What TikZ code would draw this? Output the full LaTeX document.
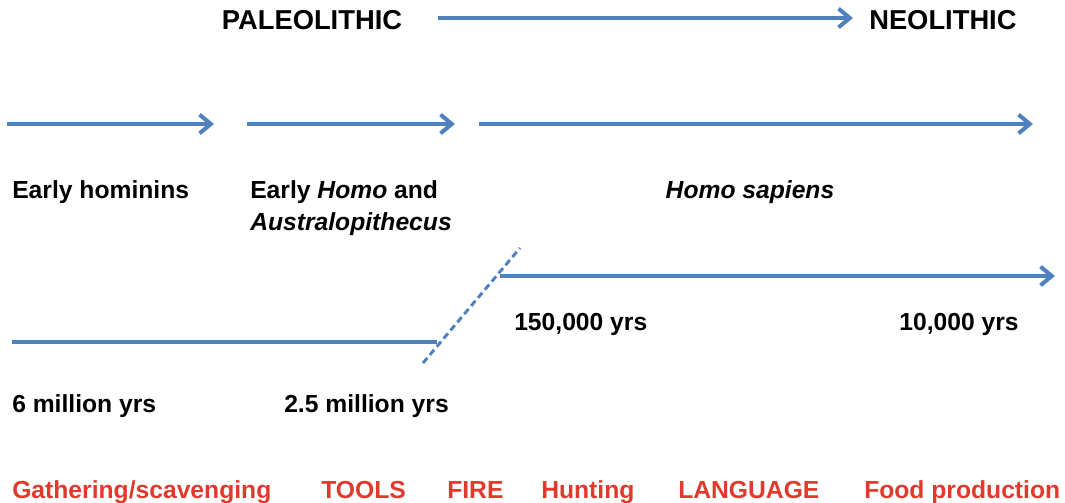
\documentclass[tikz,border=0pt]{standalone}
\usepackage{fontspec}
\setmainfont{Liberation Sans}
\usetikzlibrary{arrows.meta}
\definecolor{timeblue}{RGB}{79,129,189}
\definecolor{activityred}{RGB}{224,58,45}
\tikzset{
  time line/.style={
    draw=timeblue,
    line width=3pt,
  },
  time arrow/.style={
    time line,
    -{Straight Barb[length=8.5pt, width=14pt]},
  },
  era label/.style={
    font=\bfseries\fontsize{20.5}{24}\selectfont,
    inner sep=0pt,
  },
  stage label/.style={
    font=\bfseries\fontsize{18.5}{22}\selectfont,
    inner sep=0pt,
  },
  activity label/.style={
    stage label,
    text=activityred,
  },
}

\begin{document}
\begin{tikzpicture}[x=0.75pt, y=-0.75pt]
        \useasboundingbox (0,0) rectangle (1065,503);

        % eras
        \node[era label, anchor=base] (paleo) at (312,30) {PALEOLITHIC};
        \node[era label, anchor=base west] (neo) at (869,30) {NEOLITHIC};
        \coordinate (e1) at (438,18);
        \coordinate (e2) at (853,18);
        \draw[time arrow] (e1) to (e2);

        % stages
        \coordinate (s1) at (7,124);   \coordinate (s2) at (214,124);
        \coordinate (s3) at (247,124); \coordinate (s4) at (455,124);
        \coordinate (s5) at (479,124); \coordinate (s6) at (1033,124);
        \draw[time arrow] (s1) to (s2);
        \draw[time arrow] (s3) to (s4);
        \draw[time arrow] (s5) to (s6);

        \node[stage label, anchor=base west] (hominins) at (12,199) {Early hominins};
        \node[stage label, anchor=base west] (homo) at (250,199) {Early \textit{Homo} and};
        \node[stage label, anchor=base west] (austr) at (250,230) {\textit{Australopithecus}};
        \node[stage label, anchor=base] (sapiens) at (750,199) {\textit{Homo sapiens}};

        % time scale
        \coordinate (t1) at (500,276); \coordinate (t2) at (1055,276);
        \coordinate (t3) at (12,342);  \coordinate (t4) at (437,342);
        \coordinate (b1) at (423,363); \coordinate (b2) at (520,248);
        \draw[time arrow] (t1) to (t2);
        \draw[time line] (t3) to (t4);
        \draw[draw=timeblue, line width=2.2pt, dash pattern=on 5pt off 3pt] (b1) to (b2);

        \node[stage label, anchor=base west] (y150) at (514,330) {150,000 yrs};
        \node[stage label, anchor=base east] (y10) at (1019,330) {10,000 yrs};
        \node[stage label, anchor=base west] (y6m) at (12,412) {6 million yrs};
        \node[stage label, anchor=base west] (y25m) at (284,412) {2.5 million yrs};

        % activities
        \node[activity label, anchor=base west] (gather) at (12,498) {Gathering/scavenging};
        \node[activity label, anchor=base west] (tools) at (321,498) {TOOLS};
        \node[activity label, anchor=base west] (fire) at (447,498) {FIRE};
        \node[activity label, anchor=base west] (hunt) at (541,498) {Hunting};
        \node[activity label, anchor=base west] (lang) at (678,498) {LANGUAGE};
        \node[activity label, anchor=base west] (food) at (864,498) {Food production};
      \end{tikzpicture}
\end{document}
